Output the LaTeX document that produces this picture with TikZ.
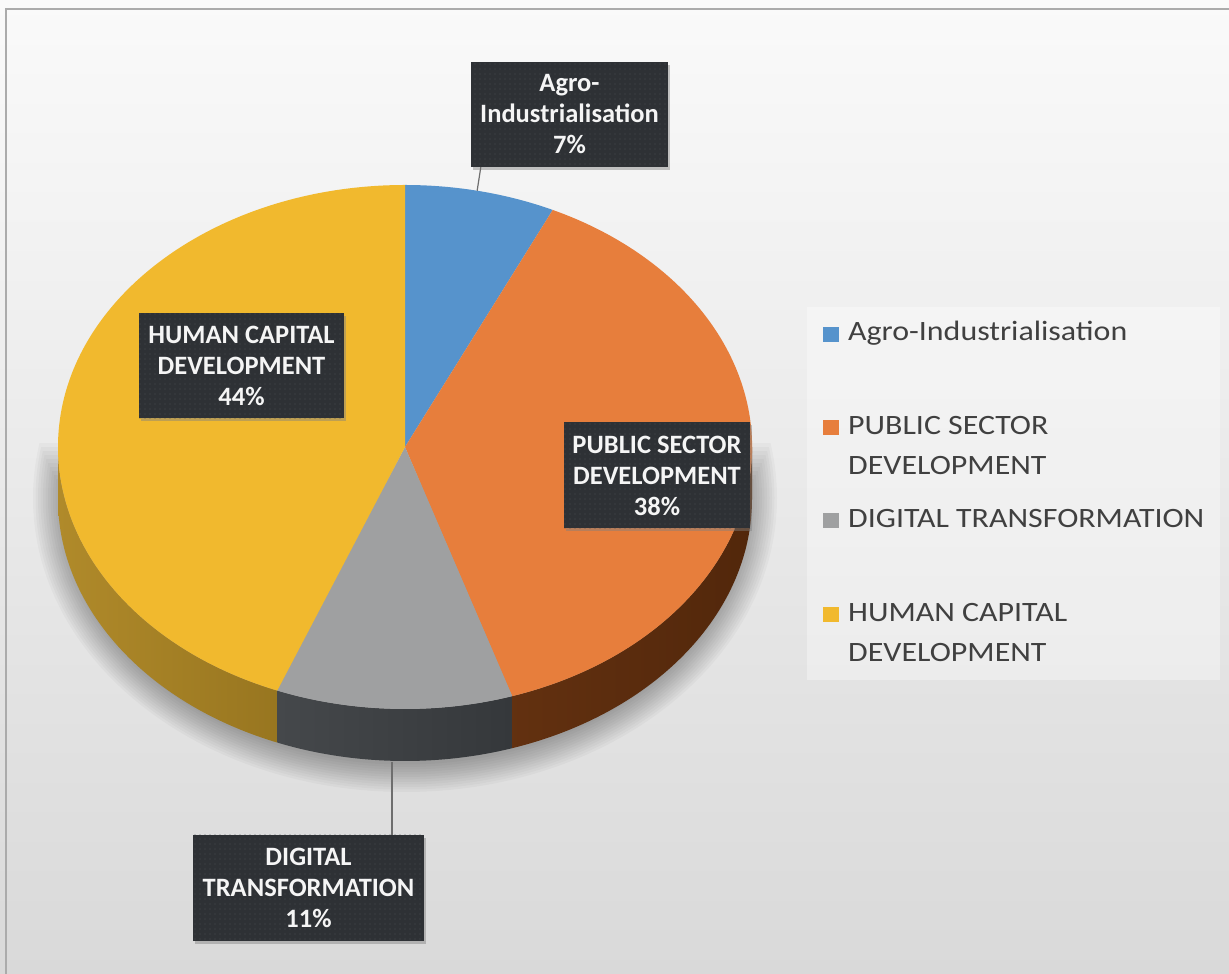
\documentclass[tikz,border=0pt]{standalone}
\usepackage{fontspec}
\setmainfont{Carlito}
\newfontfamily\legfont[FakeStretch=1.14]{Carlito}
\usetikzlibrary{shadows,patterns.meta,calc}
\definecolor{bgtop}{HTML}{FAFAFA}
\definecolor{bgbot}{HTML}{D9D9D9}
\definecolor{frame}{HTML}{ABABAB}
\definecolor{pblue}{HTML}{5693CC}
\definecolor{porange}{HTML}{E77E3C}
\definecolor{pgray}{HTML}{9FA0A1}
\definecolor{pyellow}{HTML}{F1B92E}
\definecolor{ysideL}{HTML}{B08A2A}
\definecolor{ysideR}{HTML}{8A6A1A}
\definecolor{gsideL}{HTML}{45484B}
\definecolor{gsideR}{HTML}{35383B}
\definecolor{osideL}{HTML}{6A3512}
\definecolor{osideR}{HTML}{52270B}
\definecolor{lblbg}{HTML}{2E3135}
\definecolor{lbldot}{HTML}{4A4D52}
\definecolor{legtext}{HTML}{404040}
\definecolor{leader}{HTML}{6E6E6E}
\tikzset{
  lbl/.style={drop shadow={shadow xshift=2pt,shadow yshift=-3pt,opacity=0.45},
    preaction={fill=lblbg}, pattern={Dots[distance=5pt,radius=0.6pt]}, pattern color=lbldot,
    text=white!92!gray, font=\bfseries\fontsize{26.5}{31}\selectfont, align=center, inner sep=0pt},
  legtxt/.style={anchor=base west, inner sep=0pt, text=legtext, font=\legfont\fontsize{28}{40}\selectfont},
  legbox/.style={inner sep=0pt, minimum width=16pt, minimum height=15pt},
  leaderline/.style={draw=leader, line width=1.2pt},
  pierad/.style={x radius=347pt, y radius=262pt}
}
\begin{document}
\begin{tikzpicture}[x=1pt,y=1pt]
\useasboundingbox (0,0) rectangle (1229,974);
% background
\shade[top color=bgtop,bottom color=bgbot] (0,0) rectangle (1229,974);
\draw[frame,line width=2.5pt] (6,0) -- (6,965) -- (1229,965);
% soft shadow of the pie
\foreach \i in {0,...,11}{
  \begin{scope}
    \clip (0,0) rectangle (1229,{530-4*\i});
    \fill[black,opacity=0.028] (405,476) ellipse [x radius={372pt-2.5pt*\i}, y radius={294pt-2.5pt*\i}];
  \end{scope}
}
% sides
\coordinate (C) at (405,527);
\shade[left color=ysideL,right color=ysideR] (C) ++(180:347pt and 262pt)
  arc[start angle=180,end angle=248.4,pierad] -- ++(0,-52) arc[start angle=248.4,end angle=180,pierad] -- cycle;
\shade[left color=gsideL,right color=gsideR] (C) ++(248.4:347pt and 262pt)
  arc[start angle=248.4,end angle=288,pierad] -- ++(0,-52) arc[start angle=288,end angle=248.4,pierad] -- cycle;
\shade[left color=osideL,right color=osideR] (C) ++(288:347pt and 262pt)
  arc[start angle=288,end angle=360,pierad] -- ++(0,-52) arc[start angle=360,end angle=288,pierad] -- cycle;
% top face
\fill[pblue] (C) -- ++(64.8:347pt and 262pt) arc[start angle=64.8,end angle=90,pierad] -- cycle;
\fill[porange] (C) -- ++(-72:347pt and 262pt) arc[start angle=-72,end angle=64.8,pierad] -- cycle;
\fill[pgray] (C) -- ++(-111.6:347pt and 262pt) arc[start angle=-111.6,end angle=-72,pierad] -- cycle;
\fill[pyellow] (C) -- ++(90:347pt and 262pt) arc[start angle=90,end angle=248.4,pierad] -- cycle;
% data labels
\node[lbl, minimum width=197pt, minimum height=105pt] (agro) at (569.5,859.5) {Agro-\\Industrialisation\\7\%};
\node[lbl, minimum width=205pt, minimum height=105pt] (human) at (241.5,608) {HUMAN CAPITAL\\DEVELOPMENT\\44\%};
\node[lbl, minimum width=186pt, minimum height=106pt] (public) at (657,498.5) {PUBLIC SECTOR\\DEVELOPMENT\\38\%};
\node[lbl, minimum width=231pt, minimum height=106pt] (digital) at (308.5,86) {DIGITAL\\TRANSFORMATION\\11\%};
% leader lines
\coordinate (ae) at ($(C)+(78:347pt and 262pt)$);
\draw[leaderline] ($(agro.south west)+(10,0)$) -- (ae);
\coordinate (de) at (392,212);
\draw[leaderline] (de) -- (digital.north -| de);
% legend
\fill[white,opacity=0.35] (807,294) rectangle (1220,667);
\node[legbox,fill=pblue] (k1) at (831,639.5) {};
\node[legtxt] (t1) at (848,633) {Agro-Industrialisation};
\node[legbox,fill=porange] (k2) at (831,546.5) {};
\node[legtxt] (t2a) at (848,539) {PUBLIC SECTOR};
\node[legtxt] (t2b) at (848,499) {DEVELOPMENT};
\node[legbox,fill=pgray] (k3) at (831,453.5) {};
\node[legtxt] (t3) at (848,446) {DIGITAL TRANSFORMATION};
\node[legbox,fill=pyellow] (k4) at (831,359) {};
\node[legtxt] (t4a) at (848,352) {HUMAN CAPITAL};
\node[legtxt] (t4b) at (848,312) {DEVELOPMENT};
\end{tikzpicture}
\end{document}
